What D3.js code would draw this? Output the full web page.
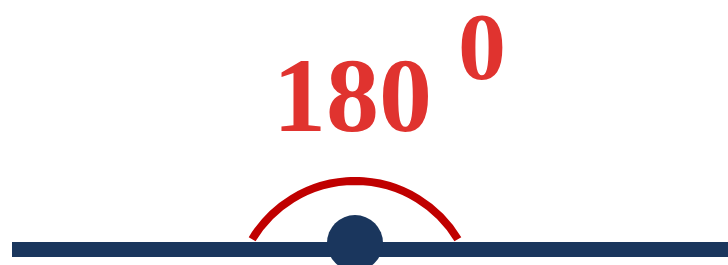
<!DOCTYPE html>
<html>
<head>
<meta charset="utf-8">
<script src="https://cdn.jsdelivr.net/npm/d3@7"></script>
<style>
  html, body { margin: 0; padding: 0; background: #ffffff; }
  svg { display: block; }
</style>
</head>
<body>
<div id="chart"></div>
<script>
// ---- data ----
const angleLabels = ["180"];
const degreeLabels = ["0"];
const angleValues = [180];
const arcSpanDeg = [-59, 59];   // visible part of the angle arc

// ---- layout ----
const W = 728, H = 265;
const svg = d3.select("#chart").append("svg").attr("width", W).attr("height", H);

// horizontal line scale (units: -1 .. 1 around the vertex)
const x = d3.scaleLinear().domain([-1, 1]).range([12, 728]);
const vertexX = 355;
const lineY = 249.5;

// straight line (the 180° angle)
svg.append("line")
  .attr("x1", x(-1)).attr("x2", x(1))
  .attr("y1", lineY).attr("y2", lineY)
  .attr("stroke", "#1a365d")
  .attr("stroke-width", 15);

// angle arc
const rScale = d3.scaleLinear().domain([0, 180]).range([0, 120]);
const arc = d3.arc()
  .innerRadius(d => rScale(d.v))
  .outerRadius(d => rScale(d.v))
  .startAngle(d => d.a0 * Math.PI / 180)
  .endAngle(d => d.a1 * Math.PI / 180);

svg.append("g")
  .attr("transform", `translate(${vertexX},301)`)
  .selectAll("path")
  .data(angleValues.map(v => ({ v, a0: arcSpanDeg[0], a1: arcSpanDeg[1] })))
  .join("path")
  .attr("d", arc)
  .attr("fill", "none")
  .attr("stroke", "#c00000")
  .attr("stroke-width", 8);

// vertex dot
svg.append("circle")
  .attr("cx", vertexX).attr("cy", 243)
  .attr("r", 28)
  .attr("fill", "#1a365d");

// label
svg.selectAll("text.main")
  .data(angleLabels)
  .join("text")
  .attr("class", "main")
  .attr("x", 273).attr("y", 131)
  .attr("font-family", "'Liberation Serif', 'Times New Roman', serif")
  .attr("font-weight", "bold")
  .attr("font-size", 106)
  .attr("fill", "#e0332f")
  .text(d => d);

svg.selectAll("text.sup")
  .data(degreeLabels)
  .join("text")
  .attr("class", "sup")
  .attr("x", 458).attr("y", 79)
  .attr("font-family", "'Liberation Serif', 'Times New Roman', serif")
  .attr("font-weight", "bold")
  .attr("font-size", 96)
  .attr("fill", "#e0332f")
  .text(d => d);
</script>
</body>
</html>
